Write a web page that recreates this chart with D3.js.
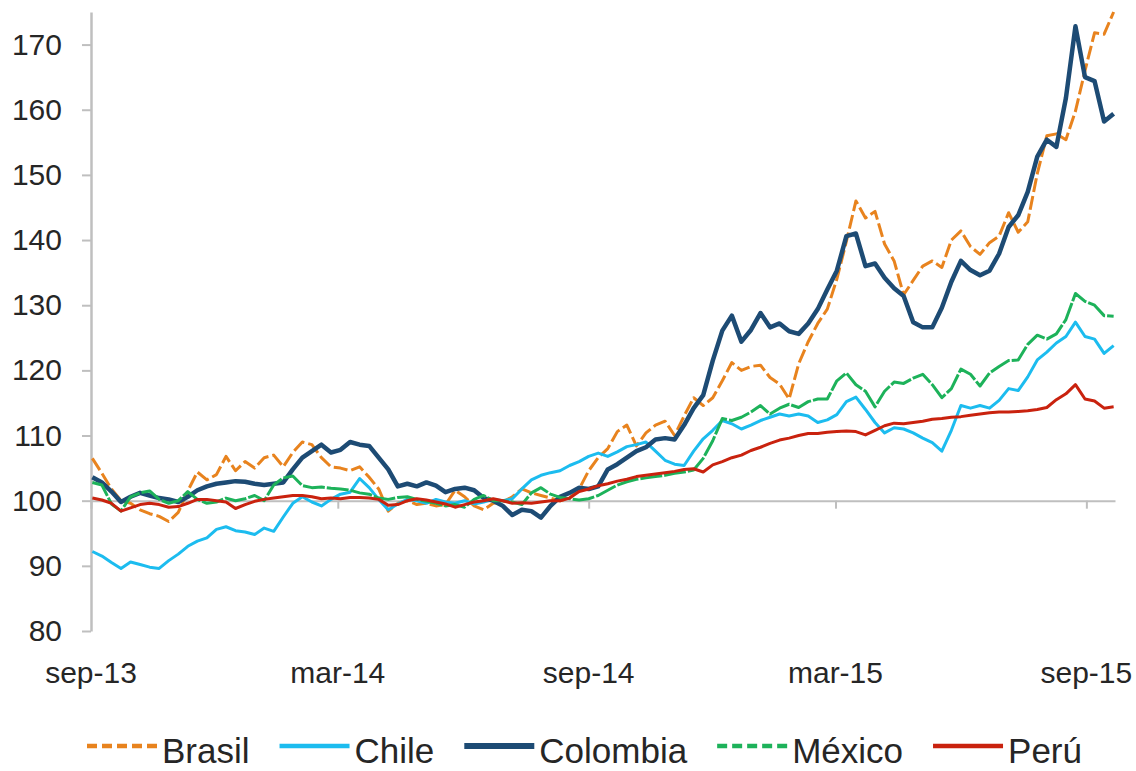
<!DOCTYPE html>
<html>
<head>
<meta charset="utf-8">
<script src="https://cdn.jsdelivr.net/npm/d3@7"></script>
<style>
  body { margin: 0; background: #fff; }
  text { font-family: 'Liberation Sans', Arial, sans-serif; fill: #262626; }
</style>
</head>
<body>
<div id="chart"></div>
<script>
// weekly index values (base 100), first week starts 2 Sep 2013
const firstWeek = new Date(2013, 8, 2)

const brasil = [
  106.5, 104.2, 101.8, 100.0, 99.6, 98.6, 98.0, 97.6, 96.8, 98.2,
  101.5, 104.4, 103.2, 104.0, 106.8, 104.6, 106.0, 105.0, 106.6, 107.0,
  105.2, 107.4, 109.0, 108.6, 106.6, 105.2, 105.0, 104.6, 105.2, 103.6,
  101.8, 98.4, 99.6, 100.0, 99.4, 99.6, 99.2, 99.4, 101.6, 100.6,
  99.2, 98.6, 99.6, 99.8, 100.6, 101.8, 101.2, 100.8, 100.4, 100.0,
  100.4, 101.8, 104.6, 106.6, 108.0, 110.6, 111.6, 108.4, 110.4, 111.6,
  112.2, 110.0, 113.0, 115.8, 114.6, 115.8, 118.4, 121.2, 120.0, 120.6,
  120.8, 118.9, 117.9, 115.6, 121.0, 124.4, 127.2, 129.4, 134.0, 139.8,
  146.0, 143.4, 144.4, 139.4, 136.8, 131.6, 133.8, 136.0, 136.8, 135.8,
  140.0, 141.4, 139.0, 137.8, 139.6, 140.6, 144.2, 141.2, 142.8, 150.2,
  156.0, 156.3, 155.4, 159.8, 166.0, 171.8, 171.6, 175.0
]

const chile = [
  92.2, 91.5, 90.5, 89.6, 90.6, 90.2, 89.8, 89.6, 90.8, 91.8,
  93.0, 93.8, 94.3, 95.6, 96.0, 95.4, 95.2, 94.8, 95.8, 95.3,
  97.5, 99.6, 100.6, 99.8, 99.2, 100.2, 101.0, 101.3, 103.4, 102.0,
  100.2, 98.6, 99.5, 100.2, 100.0, 99.6, 100.2, 99.8, 99.6, 100.0,
  99.5, 99.8, 100.2, 100.0, 100.3, 101.8, 103.2, 103.9, 104.3, 104.6,
  105.4, 106.0, 106.8, 107.3, 106.8, 107.5, 108.3, 108.6, 109.0, 107.6,
  106.2, 105.6, 105.4, 107.6, 109.5, 110.8, 112.3, 111.8, 111.0, 111.6,
  112.3, 112.8, 113.3, 113.0, 113.3, 113.0, 112.0, 112.4, 113.2, 115.2,
  115.9, 114.0, 112.0, 110.4, 111.2, 111.0, 110.4, 109.6, 108.9, 107.6,
  110.8, 114.6, 114.2, 114.6, 114.2, 115.4, 117.2, 116.9, 119.0, 121.6,
  122.8, 124.2, 125.2, 127.4, 125.2, 124.8, 122.6, 123.8
]

const colombia = [
  103.6, 102.8, 101.4, 99.8, 100.6, 101.2, 100.8, 100.4, 100.2, 99.8,
  100.6, 101.6, 102.2, 102.6, 102.8, 103.0, 102.9, 102.6, 102.4, 102.6,
  102.8, 104.8, 106.6, 107.6, 108.6, 107.4, 107.8, 109.0, 108.6, 108.4,
  106.6, 104.8, 102.2, 102.6, 102.2, 102.8, 102.3, 101.3, 101.8, 102.0,
  101.6, 100.4, 100.0, 99.2, 97.8, 98.6, 98.4, 97.4, 99.2, 100.6,
  101.2, 102.0, 101.8, 102.2, 104.8, 105.6, 106.6, 107.6, 108.2, 109.4,
  109.6, 109.4, 111.6, 114.2, 116.2, 121.5, 126.1, 128.4, 124.4, 126.2,
  128.8, 126.6, 127.2, 126.0, 125.6, 127.2, 129.4, 132.4, 135.3, 140.6,
  141.0, 136.0, 136.4, 134.2, 132.6, 131.4, 127.4, 126.6, 126.6, 129.6,
  133.6, 136.8, 135.4, 134.6, 135.3, 137.9, 142.0, 143.8, 147.4, 152.8,
  155.4, 154.3, 161.8, 172.8, 165.0, 164.4, 158.2, 159.4
]

const mexico = [
  102.8, 102.4, 99.5, 98.4, 100.6, 101.2, 101.5, 100.2, 99.6, 100.0,
  101.4, 100.2, 99.6, 99.8, 100.4, 100.0, 100.3, 100.8, 100.0, 102.4,
  103.5, 103.8, 102.3, 102.0, 102.1, 101.9, 101.8, 101.6, 101.2, 101.0,
  100.4, 100.2, 100.5, 100.6, 100.2, 99.9, 99.6, 99.2, 99.4, 99.0,
  100.2, 100.8, 100.0, 100.0, 99.8, 99.4, 101.2, 102.0, 101.0, 100.5,
  100.3, 100.1, 100.3, 100.8, 101.6, 102.4, 102.9, 103.3, 103.5, 103.7,
  103.9, 104.2, 104.4, 104.7, 106.5, 109.2, 112.6, 112.3, 112.8, 113.6,
  114.6, 113.3, 114.2, 114.8, 114.3, 115.2, 115.6, 115.6, 118.4, 119.6,
  117.8, 116.8, 114.4, 116.8, 118.2, 118.0, 118.8, 119.4, 117.8, 115.8,
  117.2, 120.2, 119.4, 117.6, 119.6, 120.6, 121.5, 121.6, 124.0, 125.4,
  124.8, 125.6, 127.8, 131.8, 130.6, 130.0, 128.4, 128.3
]

const peru = [
  100.4, 100.1, 99.6, 98.4, 98.9, 99.4, 99.6, 99.4, 99.0, 99.1,
  99.6, 100.2, 100.2, 100.0, 99.8, 98.8, 99.4, 99.9, 100.2, 100.4,
  100.6, 100.8, 100.8, 100.6, 100.3, 100.4, 100.3, 100.5, 100.5, 100.4,
  100.2, 99.3, 99.4, 100.0, 100.3, 100.1, 99.8, 99.5, 99.0, 99.4,
  99.8, 100.0, 100.3, 100.0, 99.6, 99.7, 99.6, 99.8, 100.0, 100.0,
  100.4, 101.4, 101.8, 102.3, 102.6, 103.0, 103.3, 103.7, 103.9, 104.1,
  104.3, 104.5, 104.8, 104.9, 104.4, 105.5, 106.0, 106.6, 107.0, 107.7,
  108.2, 108.8, 109.3, 109.6, 110.0, 110.3, 110.3, 110.5, 110.6, 110.7,
  110.6, 110.1, 110.8, 111.5, 111.9, 111.8, 112.0, 112.2, 112.5, 112.6,
  112.8, 112.9, 113.1, 113.3, 113.5, 113.6, 113.6, 113.7, 113.8, 114.0,
  114.3, 115.5, 116.4, 117.8, 115.6, 115.3, 114.2, 114.4
]

const yTicks = [80, 90, 100, 110, 120, 130, 140, 150, 160, 170]
const xTickDates = [new Date(2013, 8, 1), new Date(2014, 2, 1), new Date(2014, 8, 1), new Date(2015, 2, 1), new Date(2015, 8, 1)]
const xTickLabels = ['sep-13', 'mar-14', 'sep-14', 'mar-15', 'sep-15']

const series = [
  { name: 'Brasil', values: brasil, color: '#E8831E', width: 3, dash: '14,4', legendWidth: 4.5, legendDash: '10,5' },
  { name: 'Chile', values: chile, color: '#1CBCEF', width: 3, dash: null, legendWidth: 4.5, legendDash: null },
  { name: 'Colombia', values: colombia, color: '#1D4B74', width: 4.5, dash: null, legendWidth: 6, legendDash: null },
  { name: 'México', values: mexico, color: '#1DB25A', width: 3, dash: '22,2', legendWidth: 4.5, legendDash: '10,5' },
  { name: 'Perú', values: peru, color: '#C9220E', width: 3, dash: null, legendWidth: 4.5, legendDash: null }
]

const width = 1136
const height = 771

const svg = d3
  .select('#chart')
  .append('svg')
  .attr('width', width)
  .attr('height', height)

const x = d3.scaleTime()
  .domain([new Date(2013, 8, 1), new Date(2015, 8, 22)])
  .range([91, 1115])

const y = d3.scaleLinear()
  .domain([80, 175])
  .range([631, 12])

// y axis
const yAxis = svg.append('g')
  .attr('transform', 'translate(91,0)')
  .call(d3.axisLeft(y).tickValues(yTicks).tickSize(9).tickSizeOuter(0).tickPadding(20))
yAxis.select('.domain').attr('stroke', '#bfbfbf').attr('stroke-width', 2.5)
yAxis.selectAll('.tick line').attr('stroke', '#bfbfbf').attr('stroke-width', 2)
yAxis.selectAll('.tick text')
  .attr('font-size', 30)
  .attr('font-family', "'Liberation Sans', Arial, sans-serif")
  .attr('fill', '#262626')

// x axis crosses at 100
const xAxis = svg.append('g')
  .attr('transform', `translate(0,${y(100)})`)
  .call(d3.axisBottom(x).tickValues(xTickDates).tickSize(8).tickSizeOuter(0).tickFormat(''))
xAxis.select('.domain').attr('stroke', '#bfbfbf').attr('stroke-width', 2)
xAxis.selectAll('.tick line').attr('stroke', '#bfbfbf').attr('stroke-width', 2)

// x labels sit at the bottom of the plot
svg.append('g')
  .selectAll('text')
  .data(xTickDates)
  .enter()
  .append('text')
  .attr('x', d => x(d))
  .attr('y', 683)
  .attr('text-anchor', 'middle')
  .attr('font-size', 30)
  .text((d, i) => xTickLabels[i])

const line = d3.line()
  .x((d, i) => x(d3.timeDay.offset(firstWeek, i * 7)))
  .y(d => y(d))

svg.append('g')
  .selectAll('path')
  .data(series)
  .enter()
  .append('path')
  .attr('d', d => line(d.values))
  .attr('fill', 'none')
  .attr('stroke', d => d.color)
  .attr('stroke-width', d => d.width)
  .attr('stroke-dasharray', d => d.dash)
  .attr('stroke-linejoin', 'round')

// legend
const legend = svg.append('g')
let cx = 87
series.forEach(s => {
  legend.append('line')
    .attr('x1', cx)
    .attr('x2', cx + 70)
    .attr('y1', 746)
    .attr('y2', 746)
    .attr('stroke', s.color)
    .attr('stroke-width', s.legendWidth)
    .attr('stroke-dasharray', s.legendDash)
  const t = legend.append('text')
    .attr('x', cx + 75)
    .attr('y', 763)
    .attr('font-size', 35)
    .text(s.name)
  cx = cx + 75 + t.node().getComputedTextLength() + 30
})
</script>
</body>
</html>
